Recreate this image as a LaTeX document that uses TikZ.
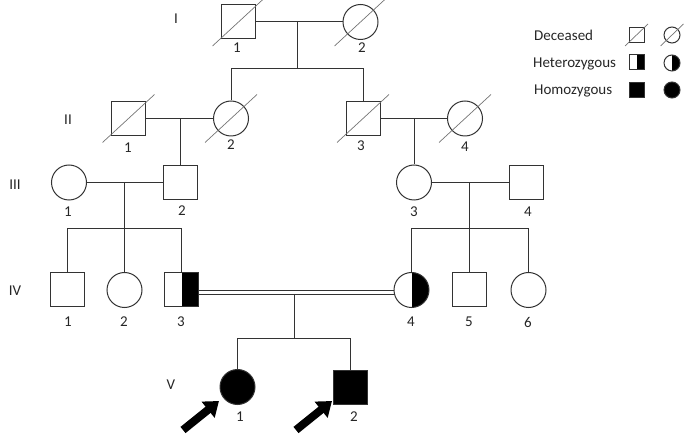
\documentclass[tikz,border=0pt]{standalone}
\usepackage{fontspec}
\setmainfont{Carlito}
\usetikzlibrary{calc,arrows.meta}
\begin{document}
\begin{tikzpicture}[x=1pt,y=-1pt,
  every node/.style={font=\fontsize{15}{17}\selectfont, text=black!85},
  conn/.style={draw=black!80, line width=1pt},
  male/.style={rectangle, draw=black!80, line width=1pt, minimum size=34pt, inner sep=0pt},
  female/.style={circle, draw=black!80, line width=1pt, minimum size=35pt, inner sep=0pt},
  lmale/.style={male, minimum size=15pt},
  lfemale/.style={female, minimum size=16pt},
  het/.style={path picture={\fill[black] (path picture bounding box.north) rectangle (path picture bounding box.south east);}},
  affected/.style={fill=black},
  num/.style={inner sep=0pt, anchor=center},
  dslash/.style={draw=black!55, line width=0.7pt},
  bigarrow/.style={draw=black, line width=8pt, -{Triangle[length=14pt,width=20pt]}}
]
\useasboundingbox (0,0) rectangle (685,435);

% ---- Generation I
\node[male]   (i1) at (238.5,22) {};
\node[female] (i2) at (360.5,22) {};
% ---- Generation II
\node[male]   (ii1) at (128.5,118.5) {};
\node[female] (ii2) at (231,118.5) {};
\node[male]   (ii3) at (363,118.5) {};
\node[female] (ii4) at (465,118.5) {};
% ---- Generation III
\node[female] (iii1) at (69,182.5) {};
\node[male]   (iii2) at (180.5,182.5) {};
\node[female] (iii3) at (414,182.5) {};
\node[male]   (iii4) at (526.5,182.5) {};
% ---- Generation IV
\node[male]        (iv1) at (67.5,290) {};
\node[female]      (iv2) at (124.5,290) {};
\node[male,het]    (iv3) at (181.5,290) {};
\node[female,het]  (iv4) at (411.5,290) {};
\node[male]        (iv5) at (469.5,290) {};
\node[female]      (iv6) at (528.5,290) {};
% ---- Generation V
\node[female,affected] (v1) at (237.5,387) {};
\node[male,affected]   (v2) at (350.5,387) {};

% deceased slashes
\foreach \n in {i1,i2,ii1,ii2,ii3,ii4}
  \draw[dslash] ($(\n)+(-26,24)$) -- ($(\n)+(26,-24)$);

% ---- connectors
\coordinate (m1) at (297,22);
\coordinate (s1) at (297,69);
\draw[conn] (i1) -- (i2);
\draw[conn] (m1) -- (s1);
\draw[conn] (ii2.north) -- (ii2.north |- s1) -- (ii3.north |- s1) -- (ii3.north);

\draw[conn] (ii1) -- (ii2);
\draw[conn] (iii2.north |- ii1) -- (iii2.north);
\draw[conn] (ii3) -- (ii4);
\draw[conn] (iii3.north |- ii3) -- (iii3.north);

\coordinate (s3) at (124.5,229);
\draw[conn] (iii1) -- (iii2);
\draw[conn] (iv2.north |- iii1) -- (iv2.north);
\draw[conn] (iv1.north) -- (iv1.north |- s3) -- (iv3.north |- s3) -- (iv3.north);

\coordinate (s4) at (469.5,229);
\draw[conn] (iii3) -- (iii4);
\draw[conn] (iv5.north |- iii3) -- (iv5.north);
\draw[conn] (iv4.north) -- (iv4.north |- s4) -- (iv6.north |- s4) -- (iv6.north);

% consanguineous marriage (double line)
\draw[conn, line width=0.9pt] (iv3.east) -- (iv4.west);
\draw[conn, line width=0.9pt] ([yshift=-4pt]iv3.east) -- ([yshift=-4pt]iv4.west);
\coordinate (m5) at (294,294);
\coordinate (s5) at (294,339);
\draw[conn] (m5) -- (s5);
\draw[conn] (v1.north) -- (v1.north |- s5) -- (v2.north |- s5) -- (v2.north);

% proband arrows
\coordinate (a1t) at (183,430);
\coordinate (a1h) at (219,401);
\coordinate (a2t) at (296,430);
\coordinate (a2h) at (332,401);
\draw[bigarrow] (a1t) -- (a1h);
\draw[bigarrow] (a2t) -- (a2h);

% ---- generation numerals
\node[num] (gI)   at (176,19)  {I};
\node[num] (gII)  at (68,120)  {II};
\node[num] (gIII) at (15,185)  {III};
\node[num] (gIV)  at (15,291)  {IV};
\node[num] (gV)   at (171,385) {V};

% ---- individual numbers
\node[num] (ni1) at (237,48) {1};
\node[num] (ni2) at (362,48) {2};
\node[num] (nii1) at (128,148) {1};
\node[num] (nii2) at (231,145) {2};
\node[num] (nii3) at (361,146) {3};
\node[num] (nii4) at (465,147) {4};
\node[num] (niii1) at (68,212) {1};
\node[num] (niii2) at (182,211) {2};
\node[num] (niii3) at (414,212) {3};
\node[num] (niii4) at (528,212) {4};
\node[num] (niv1) at (68,322) {1};
\node[num] (niv2) at (124,322) {2};
\node[num] (niv3) at (181,322) {3};
\node[num] (niv4) at (411,322) {4};
\node[num] (niv5) at (469,322) {5};
\node[num] (niv6) at (528,322) {6};
\node[num] (nv1) at (240,417) {1};
\node[num] (nv2) at (354,417) {2};

% ---- legend
\node[inner sep=0pt, anchor=base west] (lt1) at (534,41) {Deceased};
\node[inner sep=0pt, anchor=base west] (lt2) at (533,68) {Heterozygous};
\node[inner sep=0pt, anchor=base west] (lt3) at (534,94.5) {Homozygous};
\node[lmale]   (ld1) at (636.5,35) {};
\node[lfemale] (ld2) at (672,35) {};
\draw[dslash] ($(ld1)+(-11.5,11)$) -- ($(ld1)+(11.5,-11)$);
\draw[dslash] ($(ld2)+(-11.5,11)$) -- ($(ld2)+(11.5,-11)$);
\node[lmale,het]   (lh1) at (636.5,62.5) {};
\node[lfemale,het] (lh2) at (672,63) {};
\node[lmale,affected]   (lo1) at (636.5,90) {};
\node[lfemale,affected] (lo2) at (672,90) {};
\end{tikzpicture}
\end{document}
